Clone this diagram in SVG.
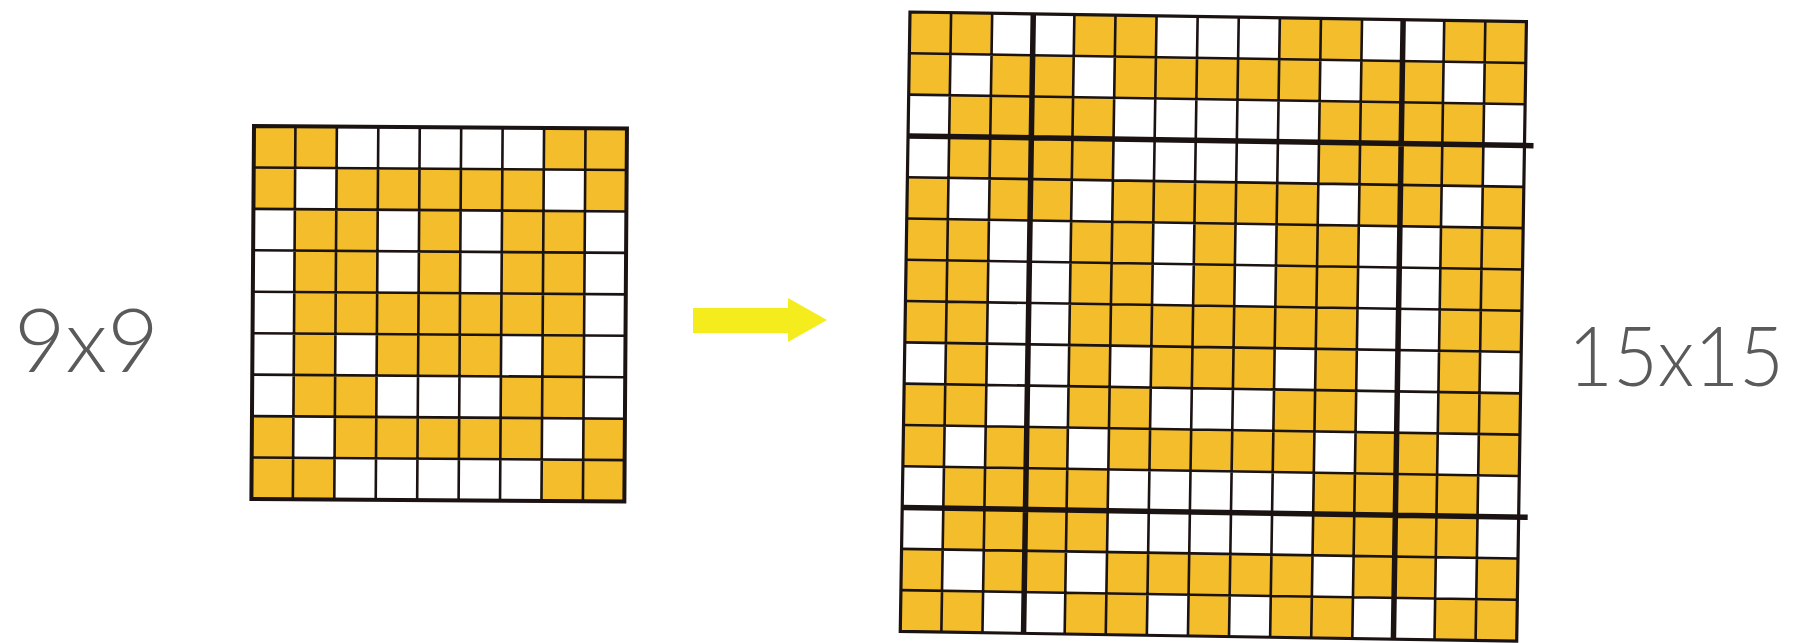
<svg xmlns="http://www.w3.org/2000/svg" xmlns:xlink="http://www.w3.org/1999/xlink" width="1802" height="643" viewBox="0 0 1802 643">
<style>
.y{fill:#F3BD2B}
.ln{fill:none;stroke:#1b1212;vector-effect:non-scaling-stroke}
.thin{stroke-width:2.6}
.bd{stroke-width:4}
.bd2{stroke-width:3.2}
.thk{stroke-width:5.5}
.hand{font-family:Lato,"Liberation Sans",sans-serif;font-weight:300;fill:#5a5a5a}
</style>
<defs>
<!-- 9x9 rows -->
<g id="s0"><rect class="y" x="0" y="0" width="2" height="1"/><rect class="y" x="7" y="0" width="2" height="1"/></g>
<g id="s1"><rect class="y" x="0" y="0" width="1" height="1"/><rect class="y" x="2" y="0" width="5" height="1"/><rect class="y" x="8" y="0" width="1" height="1"/></g>
<g id="s2"><rect class="y" x="1" y="0" width="2" height="1"/><rect class="y" x="4" y="0" width="1" height="1"/><rect class="y" x="6" y="0" width="2" height="1"/></g>
<g id="s4"><rect class="y" x="1" y="0" width="7" height="1"/></g>
<g id="s5"><rect class="y" x="1" y="0" width="1" height="1"/><rect class="y" x="3" y="0" width="3" height="1"/><rect class="y" x="7" y="0" width="1" height="1"/></g>
<g id="s6"><rect class="y" x="1" y="0" width="2" height="1"/><rect class="y" x="6" y="0" width="2" height="1"/></g>
<!-- 15x15 rows -->
<g id="rA"><rect class="y" x="0" y="0" width="2" height="1"/><rect class="y" x="4" y="0" width="2" height="1"/><rect class="y" x="9" y="0" width="2" height="1"/><rect class="y" x="13" y="0" width="2" height="1"/></g>
<g id="rB"><rect class="y" x="0" y="0" width="1" height="1"/><rect class="y" x="2" y="0" width="2" height="1"/><rect class="y" x="5" y="0" width="5" height="1"/><rect class="y" x="11" y="0" width="2" height="1"/><rect class="y" x="14" y="0" width="1" height="1"/></g>
<g id="rC"><rect class="y" x="1" y="0" width="4" height="1"/><rect class="y" x="10" y="0" width="4" height="1"/></g>
<g id="rD"><rect class="y" x="0" y="0" width="2" height="1"/><rect class="y" x="4" y="0" width="2" height="1"/><rect class="y" x="7" y="0" width="1" height="1"/><rect class="y" x="9" y="0" width="2" height="1"/><rect class="y" x="13" y="0" width="2" height="1"/></g>
<g id="rE"><rect class="y" x="0" y="0" width="2" height="1"/><rect class="y" x="4" y="0" width="7" height="1"/><rect class="y" x="13" y="0" width="2" height="1"/></g>
<g id="rF"><rect class="y" x="1" y="0" width="1" height="1"/><rect class="y" x="4" y="0" width="1" height="1"/><rect class="y" x="6" y="0" width="3" height="1"/><rect class="y" x="10" y="0" width="1" height="1"/><rect class="y" x="13" y="0" width="1" height="1"/></g>
</defs>
<rect width="1802" height="643" fill="#ffffff"/>

<g id="grid9" transform="translate(254 126) rotate(0.4) scale(41.44)">
<use href="#s0" y="0"/>
<use href="#s1" y="1"/>
<use href="#s2" y="2"/>
<use href="#s2" y="3"/>
<use href="#s4" y="4"/>
<use href="#s5" y="5"/>
<use href="#s6" y="6"/>
<use href="#s1" y="7"/>
<use href="#s0" y="8"/>
<path class="ln thin" d="M0 1H9M0 2H9M0 3H9M0 4H9M0 5H9M0 6H9M0 7H9M0 8H9M1 0V9M2 0V9M3 0V9M4 0V9M5 0V9M6 0V9M7 0V9M8 0V9"/>
<rect class="ln bd" x="0" y="0" width="9" height="9"/>
</g>

<g id="arrow">
<polygon points="693,308 788,308 788,298 827,320 788,342 788,333 693,333" fill="#F5EC1E"/>
</g>

<g id="grid15" transform="translate(910 12) rotate(0.9) scale(41.1 41.3)">
<use href="#rA" y="0"/>
<use href="#rB" y="1"/>
<use href="#rC" y="2"/>
<use href="#rC" y="3"/>
<use href="#rB" y="4"/>
<use href="#rD" y="5"/>
<use href="#rD" y="6"/>
<use href="#rE" y="7"/>
<use href="#rF" y="8"/>
<use href="#rA" y="9"/>
<use href="#rB" y="10"/>
<use href="#rC" y="11"/>
<use href="#rC" y="12"/>
<use href="#rB" y="13"/>
<use href="#rD" y="14"/>
<path class="ln thin" d="M0 1H15M0 2H15M0 4H15M0 5H15M0 6H15M0 7H15M0 8H15M0 9H15M0 10H15M0 11H15M0 13H15M0 14H15M1 0V15M2 0V15M4 0V15M5 0V15M6 0V15M7 0V15M8 0V15M9 0V15M10 0V15M11 0V15M13 0V15M14 0V15"/>
<rect class="ln bd2" x="0" y="0" width="15" height="15"/>
<path class="ln thk" d="M0 3H15.22M0 12H15.22M3 0V15M12 0V15"/>
</g>

<g id="labels">
<text class="hand" x="14" y="372" font-size="88" textLength="145" lengthAdjust="spacingAndGlyphs">9x9</text>
<text class="hand" x="1568" y="386" font-size="82" textLength="216" lengthAdjust="spacingAndGlyphs">15x15</text>
</g>
</svg>
